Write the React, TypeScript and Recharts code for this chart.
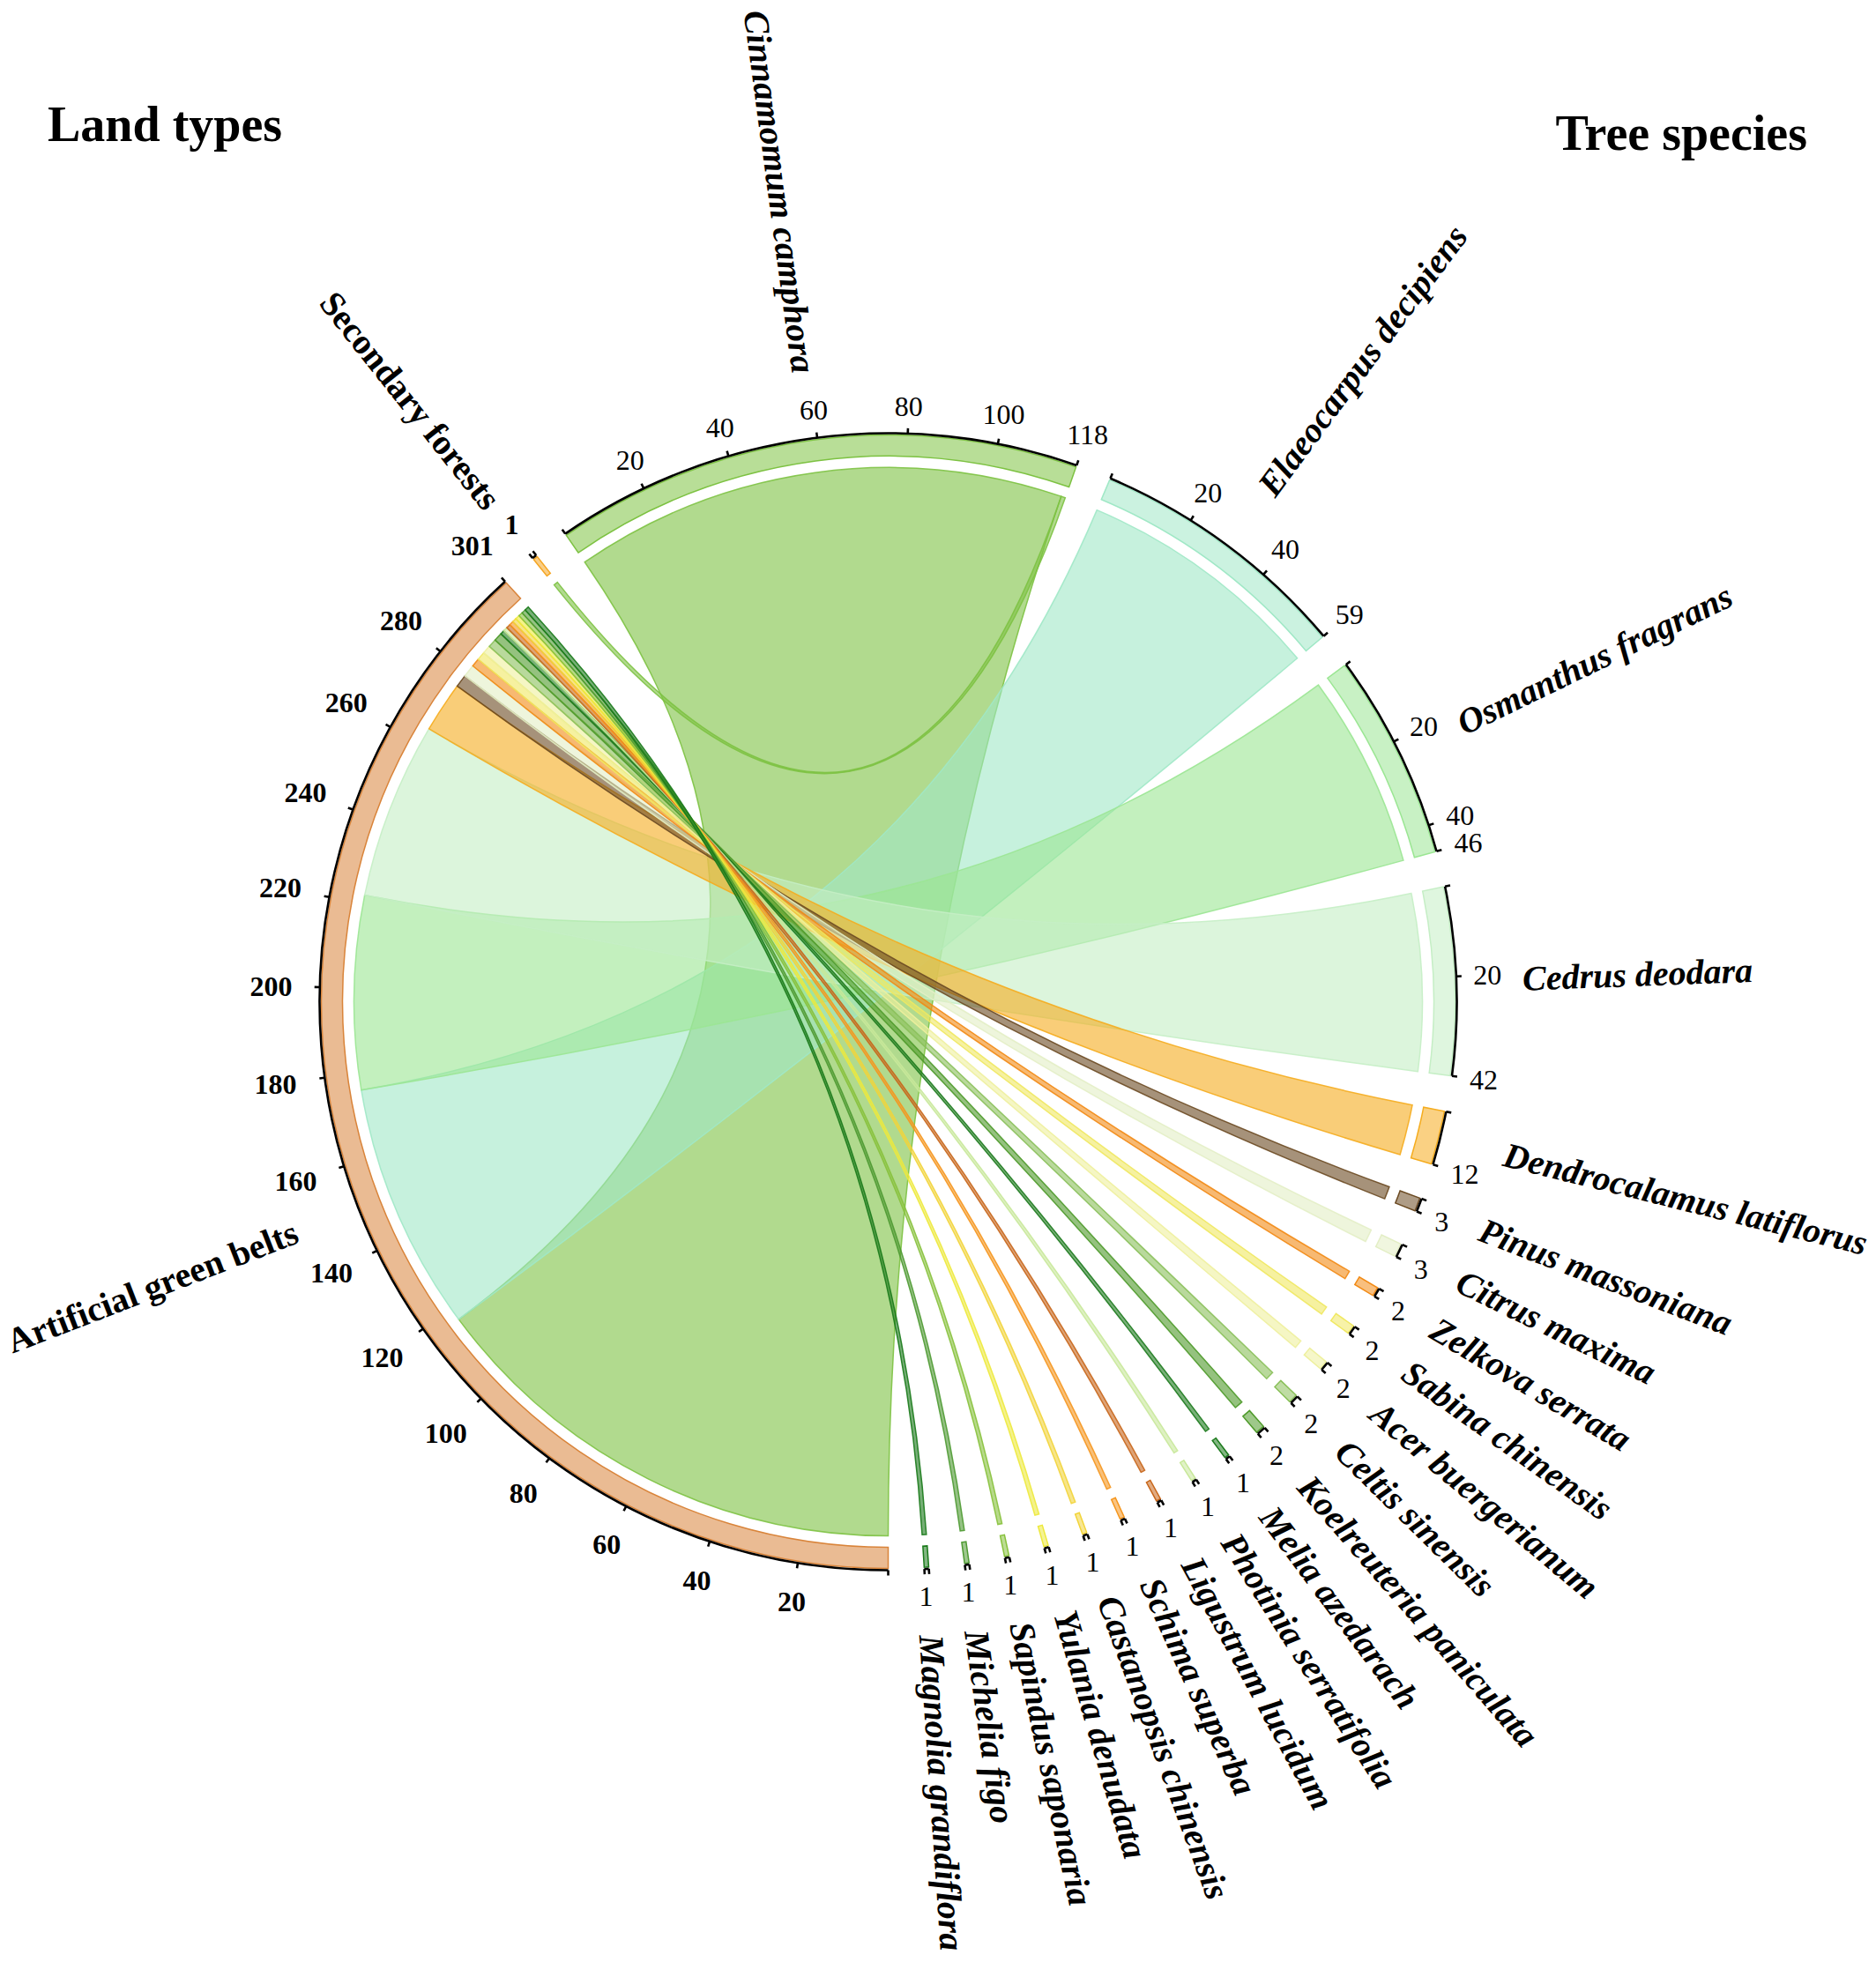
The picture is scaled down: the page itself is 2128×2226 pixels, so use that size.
import React from "react";
import { PieChart, Pie, Cell, Customized } from "recharts";

// land types (first half of the circle)
const landTypes = ["Artificial green belts", "Secondary forests"];
const landTotals = [301, 1];
const landColors = ["#D9843A", "#F5A623"];

// tree species (second half)
const species = [
  "Cinnamomum camphora",
  "Elaeocarpus decipiens",
  "Osmanthus fragrans",
  "Cedrus deodara",
  "Dendrocalamus latiflorus",
  "Pinus massoniana",
  "Citrus maxima",
  "Zelkova serrata",
  "Sabina chinensis",
  "Acer buergerianum",
  "Celtis sinensis",
  "Koelreuteria paniculata",
  "Melia azedarach",
  "Photinia serratifolia",
  "Ligustrum lucidum",
  "Schima superba",
  "Castanopsis chinensis",
  "Yulania denudata",
  "Sapindus saponaria",
  "Michelia figo",
  "Magnolia grandiflora",
];
const speciesTotals = [118, 59, 46, 42, 12, 3, 3, 2, 2, 2, 2, 2, 1, 1, 1, 1, 1, 1, 1, 1, 1];
const speciesColors = [
  "#7DC242", "#A0E8C6", "#9BE693", "#C5EEC5", "#F5AC1E", "#6B4A22", "#E3EEC5",
  "#F28A14", "#F0E861", "#EEF09D", "#8AC05A", "#4E9A2A", "#1E7B1E", "#C8E89A",
  "#C8661A", "#F5961E", "#F2D43A", "#EDE93C", "#87C13C", "#4E9A32", "#1A7A1A",
];

// link counts per species, one list per land type
const fromArtificial = [117, 59, 46, 42, 12, 3, 3, 2, 2, 2, 2, 2, 1, 1, 1, 1, 1, 1, 1, 1, 1];
const fromSecondary = [1, 0, 0, 0, 0, 0, 0, 0, 0, 0, 0, 0, 0, 0, 0, 0, 0, 0, 0, 0, 0];
const linkTable = [fromArtificial, fromSecondary];

const W = 2128;
const H = 2226;
const CX = 1007.5;
const CY = 1136.5;
const START = 270;
const PAD = 3.643;
const R_LINK = 606;
const R_IN = 619;
const R_OUT = 643;
const R_AXIS = 645;
const R_NAME = 720;
const TICK_FS = 32;
const FONT = "Liberation Serif, Times New Roman, serif";

const sectorNames = [...landTypes, ...species];
const sectorValues = [...landTotals, ...speciesTotals];
const sectorColors = [...landColors, ...speciesColors];
const pieData = sectorNames.map((name, i) => ({ name, value: sectorValues[i] }));

const RAD = Math.PI / 180;
const pt = (r: number, a: number, cx = CX, cy = CY) => [cx + r * Math.cos(-a * RAD), cy + r * Math.sin(-a * RAD)];
const fmt = (p: number[]) => `${p[0].toFixed(2)},${p[1].toFixed(2)}`;

// same angle layout as the Pie (clockwise, padding after every sector)
function layout() {
  const total = sectorValues.reduce((s, v) => s + v, 0);
  const real = 360 - sectorValues.filter((v) => v !== 0).length * PAD;
  let a = START;
  return sectorValues.map((v, i) => {
    if (i > 0) a -= PAD;
    const start = a;
    a -= (v / total) * real;
    return { start, end: a, unit: (start - a) / v };
  });
}

// ribbon: land arc a0->a1, curve to species b0, arc b0->b1, curve back
function ribbonPath(a0: number, a1: number, b0: number, b1: number) {
  const r = R_LINK;
  const large = (x: number, y: number) => (Math.abs(x - y) > 180 ? 1 : 0);
  return (
    `M${fmt(pt(r, a0))} A${r},${r} 0 ${large(a0, a1)} 1 ${fmt(pt(r, a1))} ` +
    `Q${CX},${CY} ${fmt(pt(r, b0))} A${r},${r} 0 ${large(b0, b1)} 1 ${fmt(pt(r, b1))} ` +
    `Q${CX},${CY} ${fmt(pt(r, a0))} Z`
  );
}

function Ribbons() {
  const ang = layout();
  const nLand = landTypes.length;
  const landOffset = landTypes.map(() => 0);
  const spOffset = species.map(() => 0);
  const paths: React.ReactNode[] = [];
  species.forEach((sp, j) => {
    linkTable.forEach((row, i) => {
      const v = row[j];
      if (!v) return;
      const L = ang[i];
      const S = ang[nLand + j];
      const a0 = L.start - landOffset[i] * L.unit;
      const a1 = L.start - (landOffset[i] + v) * L.unit;
      const b0 = S.start - spOffset[j] * S.unit;
      const b1 = S.start - (spOffset[j] + v) * S.unit;
      landOffset[i] += v;
      spOffset[j] += v;
      paths.push(
        <path
          key={`${i}-${j}`}
          d={ribbonPath(a0, a1, b0, b1)}
          fill={speciesColors[j]}
          fillOpacity={0.6}
          stroke={speciesColors[j]}
          strokeOpacity={0.9}
          strokeWidth={1.5}
        />
      );
    });
  });
  return <g>{paths}</g>;
}

const renderSectorLabel = (props: any) => {
  const { startAngle, endAngle, index } = props;
  const cx = typeof props.cx === "number" ? props.cx : CX;
  const cy = typeof props.cy === "number" ? props.cy : CY;
  const value = sectorValues[index];
  const isLand = index < landTypes.length;
  const unit = (startAngle - endAngle) / value;
  const ticks = [0];
  for (let t = 20; value - t >= 5; t += 20) ticks.push(t);
  ticks.push(value);
  const large = Math.abs(startAngle - endAngle) > 180 ? 1 : 0;
  const arc = `M${fmt(pt(R_AXIS, startAngle, cx, cy))} A${R_AXIS},${R_AXIS} 0 ${large} 1 ${fmt(pt(R_AXIS, endAngle, cx, cy))}`;
  const mid = (startAngle + endAngle) / 2;
  const right = Math.cos(mid * RAD) >= 0;
  const np = pt(R_NAME, mid, cx, cy);
  const rot = right ? -mid : 180 - mid;
  const r0 = isLand ? 676 : 664;
  return (
    <g>
      <path d={arc} fill="none" stroke="#000" strokeWidth={2.6} />
      {ticks.map((t) => {
        const a = startAngle - t * unit;
        const p1 = pt(R_AXIS, a, cx, cy);
        const p2 = pt(R_AXIS + 6, a, cx, cy);
        return <line key={`t${t}`} x1={p1[0]} y1={p1[1]} x2={p2[0]} y2={p2[1]} stroke="#000" strokeWidth={2.6} />;
      })}
      {ticks.slice(1).map((t) => {
        const a = startAngle - t * unit;
        // keep the near edge of the horizontal label at a fixed gap from the axis
        const halfW = String(t).length * 0.25 * TICK_FS;
        const halfH = 0.34 * TICK_FS;
        const r = r0 + Math.abs(Math.cos(a * RAD)) * halfW + Math.abs(Math.sin(a * RAD)) * halfH;
        const p = pt(r, a, cx, cy);
        return (
          <text
            key={`l${t}`}
            x={p[0]}
            y={p[1]}
            textAnchor="middle"
            dominantBaseline="central"
            style={{ fontFamily: FONT, fontSize: TICK_FS, fontWeight: isLand ? 700 : 400 }}
            fill="#000"
          >
            {t}
          </text>
        );
      })}
      <text
        x={np[0]}
        y={np[1]}
        transform={`rotate(${rot} ${np[0]} ${np[1]})`}
        textAnchor={right ? "start" : "end"}
        dominantBaseline="central"
        style={{ fontFamily: FONT, fontSize: 40, fontWeight: 700, fontStyle: isLand ? "normal" : "italic" }}
        fill="#000"
      >
        {sectorNames[index]}
      </text>
    </g>
  );
};

export default function App() {
  return (
    <div style={{ position: "absolute", left: 0, top: 0, width: W, height: H, background: "#fff" }}>
      <PieChart width={W} height={H} margin={{ top: 0, right: 0, bottom: 0, left: 0 }}>
        <Customized component={<Ribbons />} />
        <Pie
          data={pieData}
          dataKey="value"
          nameKey="name"
          cx={CX}
          cy={CY}
          innerRadius={R_IN}
          outerRadius={R_OUT}
          startAngle={START}
          endAngle={START - 360}
          paddingAngle={PAD}
          label={renderSectorLabel}
          labelLine={false}
          isAnimationActive={false}
        >
          {pieData.map((d, i) => (
            <Cell key={d.name} fill={sectorColors[i]} fillOpacity={0.55} stroke={sectorColors[i]} strokeWidth={1.5} />
          ))}
        </Pie>
        <text x={54} y={160} style={{ fontFamily: FONT, fontSize: 56, fontWeight: 700 }} fill="#000">
          Land types
        </text>
        <text x={2050} y={170} textAnchor="end" style={{ fontFamily: FONT, fontSize: 56, fontWeight: 700 }} fill="#000">
          Tree species
        </text>
      </PieChart>
    </div>
  );
}
